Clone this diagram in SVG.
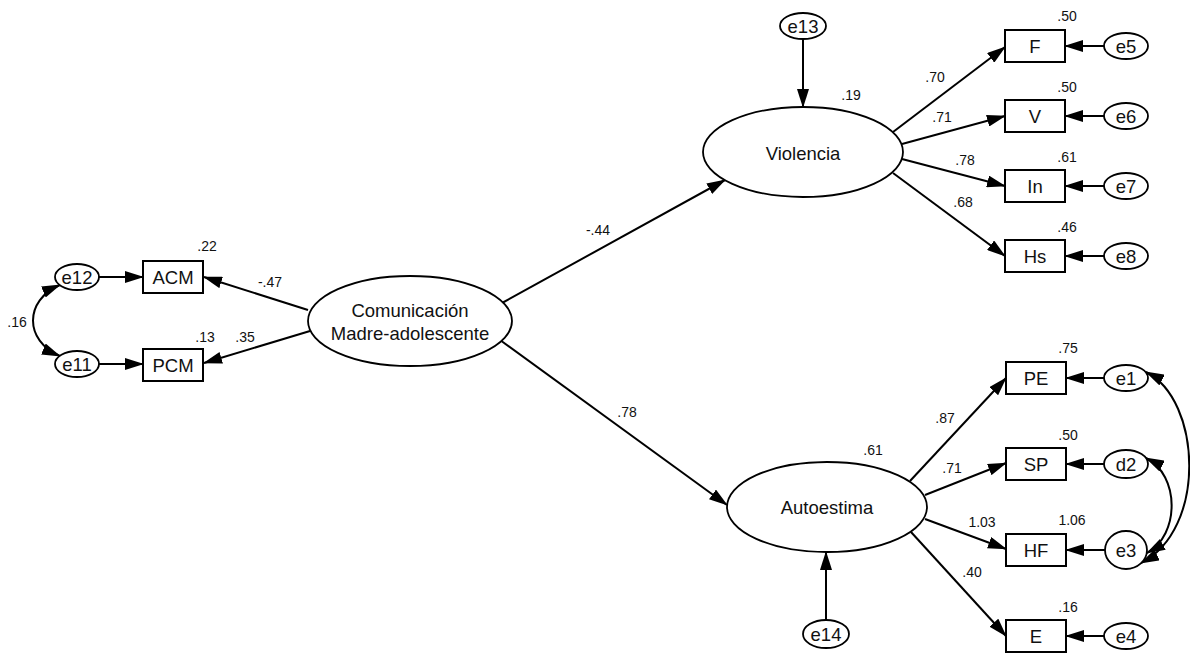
<svg xmlns="http://www.w3.org/2000/svg" width="1190" height="654" viewBox="0 0 1190 654">
<style>
.bg{fill:#fff}
.nd{fill:#fff;stroke:#000;stroke-width:1.8}
.bx{fill:#fff;stroke:#000;stroke-width:2}
.ln{fill:none;stroke:#000;stroke-width:2;marker-end:url(#ah)}
.cv{fill:none;stroke:#000;stroke-width:2;marker-start:url(#ah);marker-end:url(#ah)}
.t{font-family:"Liberation Sans",Arial,sans-serif;font-size:18.5px;fill:#111;text-anchor:middle;dominant-baseline:central}
.l{font-family:"Liberation Sans",Arial,sans-serif;font-size:14px;fill:#111;text-anchor:middle;dominant-baseline:central}
</style>
<defs>
<marker id="ah" viewBox="0 0 19 12" refX="18" refY="6" markerWidth="19" markerHeight="12" orient="auto-start-reverse" markerUnits="userSpaceOnUse">
<path d="M0,0 L19,6 L0,12 z" fill="#000"/>
</marker>
</defs>
<rect class="bg" x="0" y="0" width="1190" height="654"/>

<g id="connectors">
<line class="ln" x1="308" y1="310" x2="204" y2="277"/>
<line class="ln" x1="310" y1="331" x2="204" y2="363"/>
<line class="ln" x1="502" y1="303" x2="725" y2="180"/>
<line class="ln" x1="500" y1="340" x2="727" y2="505"/>
<line class="ln" x1="803" y1="39" x2="803" y2="107"/>
<line class="ln" x1="826" y1="620" x2="826" y2="552"/>
<line class="ln" x1="893" y1="132" x2="1005" y2="47"/>
<line class="ln" x1="902" y1="144" x2="1005" y2="116"/>
<line class="ln" x1="902" y1="159" x2="1005" y2="186"/>
<line class="ln" x1="893" y1="173" x2="1005" y2="256"/>
<line class="ln" x1="910" y1="481" x2="1006" y2="378"/>
<line class="ln" x1="925" y1="495" x2="1006" y2="463"/>
<line class="ln" x1="925" y1="519" x2="1006" y2="549"/>
<line class="ln" x1="911" y1="532" x2="1006" y2="636"/>
<line class="ln" x1="99" y1="277" x2="143" y2="277"/>
<line class="ln" x1="99" y1="364" x2="143" y2="364"/>
<line class="ln" x1="1104" y1="46" x2="1065" y2="46"/>
<line class="ln" x1="1104" y1="116" x2="1065" y2="116"/>
<line class="ln" x1="1104" y1="186" x2="1065" y2="186"/>
<line class="ln" x1="1104" y1="256" x2="1065" y2="256"/>
<line class="ln" x1="1104" y1="378" x2="1066" y2="378"/>
<line class="ln" x1="1104" y1="464" x2="1066" y2="464"/>
<line class="ln" x1="1105" y1="550" x2="1066" y2="550"/>
<line class="ln" x1="1104" y1="636" x2="1066" y2="636"/>
<path class="cv" d="M60,285 C24,300 24,341 60,356"/>
<path class="cv" d="M1146,372 C1202,400 1207,530 1141,563"/>
<path class="cv" d="M1146,458 C1180,475 1180,535 1147,553"/>
</g>

<g id="com"><ellipse class="nd" cx="410" cy="321" rx="102" ry="45"/><text class="t" x="410" y="310">Comunicación</text><text class="t" x="410" y="333">Madre-adolescente</text></g>
<g id="violencia"><ellipse class="nd" cx="803" cy="152" rx="100" ry="45"/><text class="t" x="803" y="153">Violencia</text></g>
<g id="autoestima"><ellipse class="nd" cx="827" cy="507" rx="100" ry="45"/><text class="t" x="827" y="507">Autoestima</text></g>

<g id="ACM"><rect class="bx" x="143" y="261" width="60" height="32"/><text class="t" x="173" y="277">ACM</text></g>
<g id="PCM"><rect class="bx" x="143" y="349" width="60" height="32"/><text class="t" x="173" y="365">PCM</text></g>
<g id="e12"><ellipse class="nd" cx="77" cy="277" rx="22" ry="13"/><text class="t" x="77" y="277">e12</text></g>
<g id="e11"><ellipse class="nd" cx="77" cy="364" rx="22" ry="13"/><text class="t" x="77" y="364">e11</text></g>

<g id="e13"><ellipse class="nd" cx="803" cy="26" rx="23" ry="13"/><text class="t" x="803" y="26">e13</text></g>
<g id="e14"><ellipse class="nd" cx="826" cy="634" rx="23" ry="14"/><text class="t" x="826" y="634">e14</text></g>

<g id="F"><rect class="bx" x="1005" y="30" width="60" height="32"/><text class="t" x="1035" y="46">F</text></g>
<g id="V"><rect class="bx" x="1005" y="100" width="60" height="32"/><text class="t" x="1035" y="116">V</text></g>
<g id="In"><rect class="bx" x="1005" y="170" width="60" height="32"/><text class="t" x="1035" y="186">In</text></g>
<g id="Hs"><rect class="bx" x="1005" y="240" width="60" height="32"/><text class="t" x="1035" y="256">Hs</text></g>
<g id="e5"><ellipse class="nd" cx="1126" cy="46" rx="22" ry="13"/><text class="t" x="1126" y="46">e5</text></g>
<g id="e6"><ellipse class="nd" cx="1126" cy="116" rx="22" ry="13"/><text class="t" x="1126" y="116">e6</text></g>
<g id="e7"><ellipse class="nd" cx="1126" cy="186" rx="22" ry="13"/><text class="t" x="1126" y="186">e7</text></g>
<g id="e8"><ellipse class="nd" cx="1126" cy="256" rx="22" ry="13"/><text class="t" x="1126" y="256">e8</text></g>

<g id="PE"><rect class="bx" x="1006" y="362" width="60" height="32"/><text class="t" x="1036" y="378">PE</text></g>
<g id="SP"><rect class="bx" x="1006" y="448" width="60" height="32"/><text class="t" x="1036" y="464">SP</text></g>
<g id="HF"><rect class="bx" x="1006" y="534" width="60" height="32"/><text class="t" x="1036" y="550">HF</text></g>
<g id="E"><rect class="bx" x="1006" y="620" width="60" height="32"/><text class="t" x="1036" y="636">E</text></g>
<g id="e1"><ellipse class="nd" cx="1126" cy="378" rx="22" ry="13"/><text class="t" x="1126" y="378">e1</text></g>
<g id="d2"><ellipse class="nd" cx="1126" cy="464" rx="22" ry="14"/><text class="t" x="1126" y="464">d2</text></g>
<g id="e3"><ellipse class="nd" cx="1126" cy="550" rx="21" ry="19"/><text class="t" x="1126" y="550">e3</text></g>
<g id="e4"><ellipse class="nd" cx="1126" cy="636" rx="22" ry="13"/><text class="t" x="1126" y="636">e4</text></g>

<g id="labels">
<text class="l" x="207" y="246">.22</text>
<text class="l" x="270" y="282">-.47</text>
<text class="l" x="205" y="337">.13</text>
<text class="l" x="245" y="337">.35</text>
<text class="l" x="17" y="322">.16</text>
<text class="l" x="598" y="230">-.44</text>
<text class="l" x="627" y="412">.78</text>
<text class="l" x="851" y="95">.19</text>
<text class="l" x="935" y="77">.70</text>
<text class="l" x="942" y="117">.71</text>
<text class="l" x="965" y="160">.78</text>
<text class="l" x="963" y="202">.68</text>
<text class="l" x="1067" y="16">.50</text>
<text class="l" x="1067" y="87">.50</text>
<text class="l" x="1067" y="157">.61</text>
<text class="l" x="1067" y="227">.46</text>
<text class="l" x="1068" y="348">.75</text>
<text class="l" x="945" y="418">.87</text>
<text class="l" x="873" y="450">.61</text>
<text class="l" x="952" y="468">.71</text>
<text class="l" x="1068" y="435">.50</text>
<text class="l" x="982" y="522">1.03</text>
<text class="l" x="1072" y="520">1.06</text>
<text class="l" x="972" y="572">.40</text>
<text class="l" x="1068" y="607">.16</text>
</g>
</svg>
